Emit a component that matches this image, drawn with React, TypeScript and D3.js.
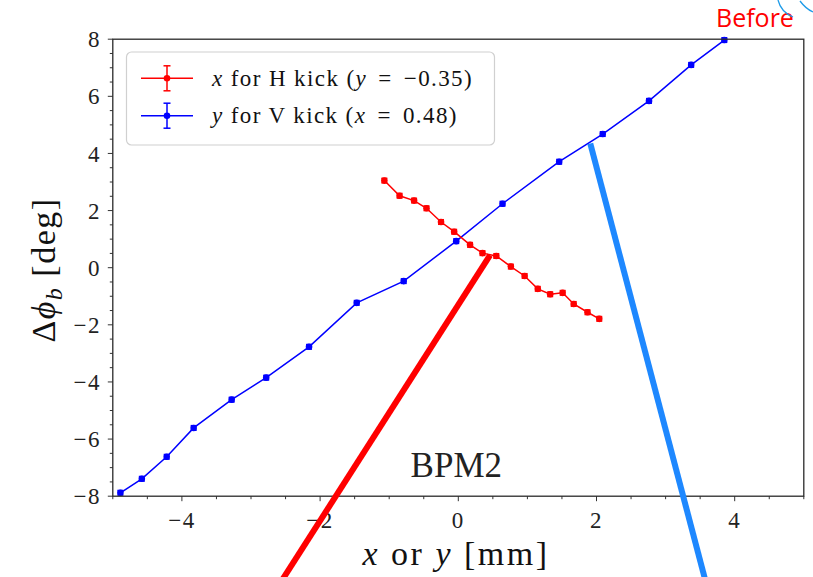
import React from "react";
import * as d3 from "d3";

const hX = [-1.07, -0.85, -0.64, -0.46, -0.25, -0.06, 0.17, 0.35, 0.55, 0.76, 0.96, 1.15, 1.33, 1.51, 1.67, 1.87, 2.04];
const hY = [3.05, 2.52, 2.35, 2.08, 1.6, 1.26, 0.8, 0.51, 0.41, 0.04, -0.29, -0.74, -0.93, -0.88, -1.27, -1.56, -1.79];
const vX = [-4.89, -4.58, -4.22, -3.83, -3.28, -2.78, -2.16, -1.47, -0.79, -0.03, 0.64, 1.46, 2.09, 2.76, 3.37, 3.85];
const vY = [-7.88, -7.39, -6.62, -5.61, -4.62, -3.85, -2.77, -1.23, -0.47, 0.93, 2.24, 3.71, 4.68, 5.84, 7.1, 7.97];
const errY = 0.08;

const xTicks = [-4, -2, 0, 2, 4];
const yTicks = [-8, -6, -4, -2, 0, 2, 4, 6, 8];

// annotation arrows drawn over the chart (data coordinates)
const redArrow = [[0.46, 0.44], [-2.54, -10.9]];
const blueArrow = [[1.91, 4.35], [3.57, -10.9]];

const W = 813, H = 577;
const L = 112.8, R = 803.8, T = 39.2, B = 496.2;

const SERIF = "'Liberation Serif', 'DejaVu Serif', serif";

const fmt = (t: number) => (t < 0 ? "\u2212" + Math.abs(t) : String(t));

export default function App() {
  const x = d3.scaleLinear().domain([-5, 5]).range([L, R]);
  const y = d3.scaleLinear().domain([-8, 8]).range([B, T]);
  const line = d3.line<[number, number]>().x(d => x(d[0])).y(d => y(d[1]));

  const hData: [number, number][] = hX.map((v, i) => [v, hY[i]]);
  const vData: [number, number][] = vX.map((v, i) => [v, vY[i]]);

  const xMinor = d3.range(-5, 5.001, 0.5);
  const yMinor = d3.range(-8, 8.001, 0.5);

  const series = (data: [number, number][], color: string) => (
    <g>
      <path d={line(data) || ""} fill="none" stroke={color} strokeWidth={1.5} />
      {data.map((d, i) => (
        <g key={i}>
          <line x1={x(d[0])} x2={x(d[0])} y1={y(d[1] - errY)} y2={y(d[1] + errY)} stroke={color} strokeWidth={1.5} />
          <line x1={x(d[0]) - 3} x2={x(d[0]) + 3} y1={y(d[1] - errY)} y2={y(d[1] - errY)} stroke={color} strokeWidth={1.5} />
          <line x1={x(d[0]) - 3} x2={x(d[0]) + 3} y1={y(d[1] + errY)} y2={y(d[1] + errY)} stroke={color} strokeWidth={1.5} />
          <circle cx={x(d[0])} cy={y(d[1])} r={3.3} fill={color} />
        </g>
      ))}
    </g>
  );

  const legendItem = (cy: number, color: string) => (
    <g>
      <line x1={141} x2={193} y1={cy} y2={cy} stroke={color} strokeWidth={1.5} />
      <line x1={167} x2={167} y1={cy - 12.5} y2={cy + 12.5} stroke={color} strokeWidth={1.5} />
      <line x1={163.5} x2={170.5} y1={cy - 12.5} y2={cy - 12.5} stroke={color} strokeWidth={1.5} />
      <line x1={163.5} x2={170.5} y1={cy + 12.5} y2={cy + 12.5} stroke={color} strokeWidth={1.5} />
      <circle cx={167} cy={cy} r={3.3} fill={color} />
    </g>
  );

  return (
    <svg width={W} height={H} style={{ position: "fixed", left: 0, top: 0, background: "#fff" }} fontFamily={SERIF}>
      <rect x={0} y={0} width={W} height={H} fill="#fff" />
      {/* ticks */}
      {xMinor.map((t, i) => (
        <line key={"xm" + i} x1={x(t)} x2={x(t)} y1={B} y2={B + (Number.isInteger(t / 2) ? 5 : 3)} stroke="#333" strokeWidth={1} />
      ))}
      {yMinor.map((t, i) => (
        <line key={"ym" + i} y1={y(t)} y2={y(t)} x1={L} x2={L - (Number.isInteger(t / 2) ? 5 : 3)} stroke="#333" strokeWidth={1} />
      ))}
      {xTicks.map(t => (
        <text key={"xt" + t} x={x(t)} y={528} textAnchor="middle" fontSize={23} letterSpacing={1.5} fill="#222">
          {fmt(t)}
        </text>
      ))}
      {yTicks.map(t => (
        <text key={"yt" + t} x={101} y={y(t)} dy="0.35em" textAnchor="end" fontSize={23} letterSpacing={1.5} fill="#222">
          {fmt(t)}
        </text>
      ))}

      {series(vData, "#0000ff")}
      {series(hData, "#ff0000")}

      {/* frame */}
      <rect x={L} y={T} width={R - L} height={B - T} fill="none" stroke="#2a2a2a" strokeWidth={1.3} />

      {/* legend */}
      <rect x={126.5} y={52} width={368} height={93} rx={5} fill="#fff" fillOpacity={0.8} stroke="#d0d0d0" strokeWidth={1.2} />
      {legendItem(78.3, "#ff0000")}
      {legendItem(115.7, "#0000ff")}
      <text x={212} y={85.5} fontSize={23} letterSpacing={1.4} fill="#111">
        <tspan fontStyle="italic">x</tspan>
        <tspan> for H kick (</tspan>
        <tspan fontStyle="italic">y</tspan>
        <tspan dx={4}> = </tspan>
        <tspan dx={4}>−0.35)</tspan>
      </text>
      <text x={212} y={123} fontSize={23} letterSpacing={1.4} fill="#111">
        <tspan fontStyle="italic">y</tspan>
        <tspan> for V kick (</tspan>
        <tspan fontStyle="italic">x</tspan>
        <tspan dx={4}> = </tspan>
        <tspan dx={4}>0.48)</tspan>
      </text>

      {/* BPM2 label */}
      <text x={x(-0.69)} y={y(-7.32)} fontSize={35} fill="#222">BPM2</text>

      {/* axis labels */}
      <text x={456} y={565} textAnchor="middle" fontSize={34} letterSpacing={2.5} fill="#111">
        <tspan fontStyle="italic">x</tspan>
        <tspan> or </tspan>
        <tspan fontStyle="italic">y</tspan>
        <tspan> [mm]</tspan>
      </text>
      <text transform="translate(55,270) rotate(-90)" textAnchor="middle" fontSize={34} letterSpacing={1.5} fill="#111">
        <tspan>Δ</tspan>
        <tspan fontStyle="italic">ϕ</tspan>
        <tspan fontStyle="italic" fontSize={24} dy={7}>b</tspan>
        <tspan dy={-7}> [deg]</tspan>
      </text>

      {/* overlay annotations */}
      <line x1={x(redArrow[0][0])} y1={y(redArrow[0][1])} x2={x(redArrow[1][0])} y2={y(redArrow[1][1])} stroke="#ff0000" strokeWidth={6} />
      <line x1={x(blueArrow[0][0])} y1={y(blueArrow[0][1])} x2={x(blueArrow[1][0])} y2={y(blueArrow[1][1])} stroke="#1e88ff" strokeWidth={6} />
      <text x={716} y={27} fontSize={25} fill="#ff0000" fontFamily="'Open Sans', 'Noto Sans', sans-serif">Before</text>
      <path d="M778,0 Q781,12 793,17" fill="none" stroke="#1e9be8" strokeWidth={1.3} />
      <path d="M800,1 Q806,9 813,12" fill="none" stroke="#1e9be8" strokeWidth={1.3} />
    </svg>
  );
}
